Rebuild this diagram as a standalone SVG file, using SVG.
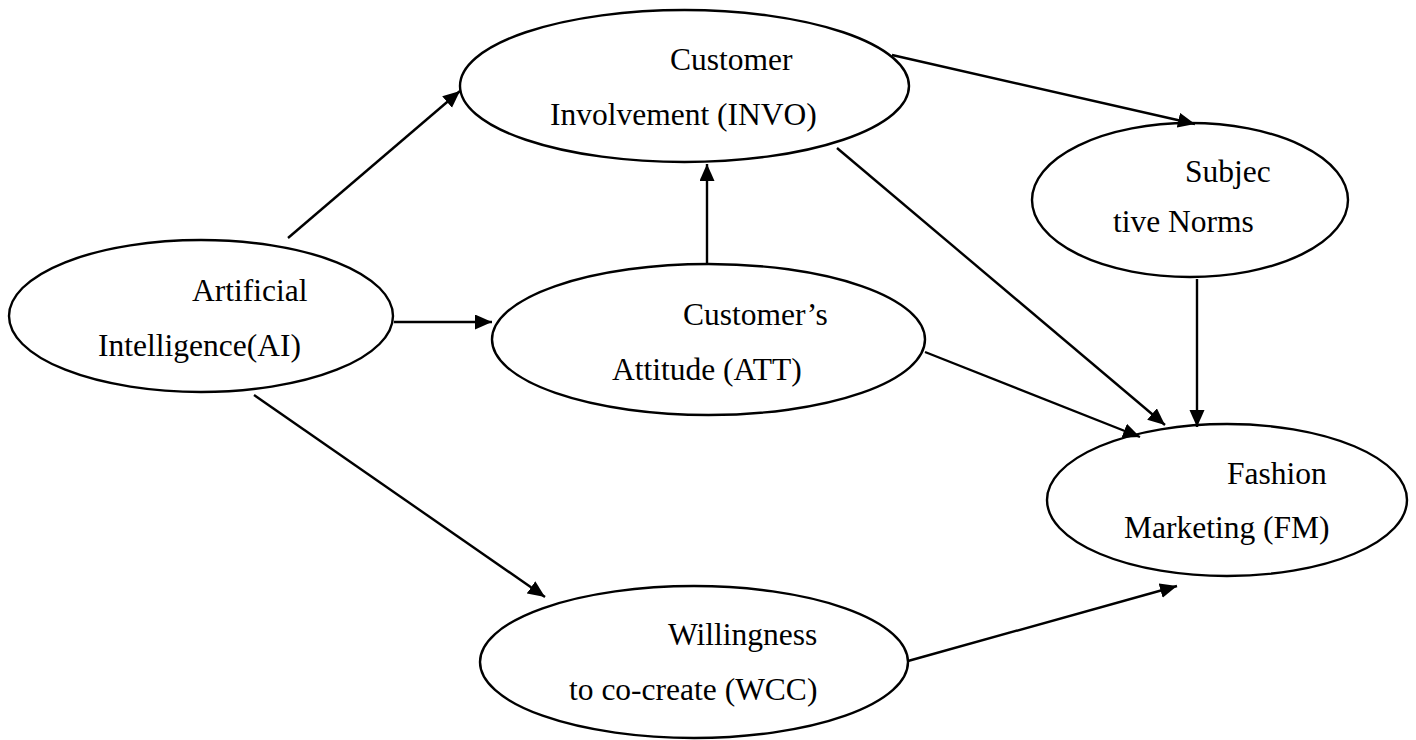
<svg xmlns="http://www.w3.org/2000/svg" width="1416" height="740" viewBox="0 0 1416 740">
<style>
.n{fill:#fff;stroke:#000;stroke-width:2.4}
.t{font-family:"Liberation Serif","Times New Roman",serif;font-size:31.5px;fill:#000}
.c line{stroke:#000;stroke-width:2.4;marker-end:url(#ah)}
</style>
<defs>
<marker id="ah" markerUnits="userSpaceOnUse" markerWidth="18" markerHeight="16" refX="17" refY="7.5" orient="auto">
<path d="M0,0 L17,7.5 L0,15 z" fill="#000"/>
</marker>
</defs>
<rect width="1416" height="740" fill="#fff"/>
<g id="AI"><ellipse class="n" cx="201" cy="316" rx="192" ry="76"/>
<text class="t" x="192" y="301">Artificial</text><text class="t" x="98" y="356">Intelligence(AI)</text></g>
<g id="INVO"><ellipse class="n" cx="684.5" cy="86" rx="224.5" ry="76"/>
<text class="t" x="670" y="70">Customer</text><text class="t" x="550" y="125">Involvement (INVO)</text></g>
<g id="ATT"><ellipse class="n" cx="708.5" cy="339.5" rx="216.5" ry="75.5"/>
<text class="t" x="683" y="325">Customer’s</text><text class="t" x="612" y="380">Attitude (ATT)</text></g>
<g id="SN"><ellipse class="n" cx="1190" cy="200" rx="158" ry="77"/>
<text class="t" x="1185" y="182">Subjec</text><text class="t" x="1113" y="232">tive Norms</text></g>
<g id="FM"><ellipse class="n" cx="1227" cy="500" rx="180" ry="76"/>
<text class="t" x="1227" y="484">Fashion</text><text class="t" x="1124" y="538">Marketing (FM)</text></g>
<g id="WCC"><ellipse class="n" cx="694" cy="662" rx="214" ry="76"/>
<text class="t" x="668" y="645">Willingness</text><text class="t" x="569" y="700">to co-create (WCC)</text></g>
<g class="c" id="connectors">
<line x1="288" y1="238" x2="460" y2="91"/>
<line x1="394" y1="322" x2="492" y2="322"/>
<line x1="254" y1="395" x2="545" y2="597"/>
<line x1="707" y1="264" x2="707" y2="164"/>
<line x1="892" y1="55" x2="1195" y2="124"/>
<line x1="837" y1="148" x2="1165" y2="425"/>
<line x1="925" y1="352" x2="1140" y2="437"/>
<line x1="1197" y1="279" x2="1197" y2="427"/>
<line x1="908" y1="661" x2="1177" y2="586"/>
</g>
</svg>
